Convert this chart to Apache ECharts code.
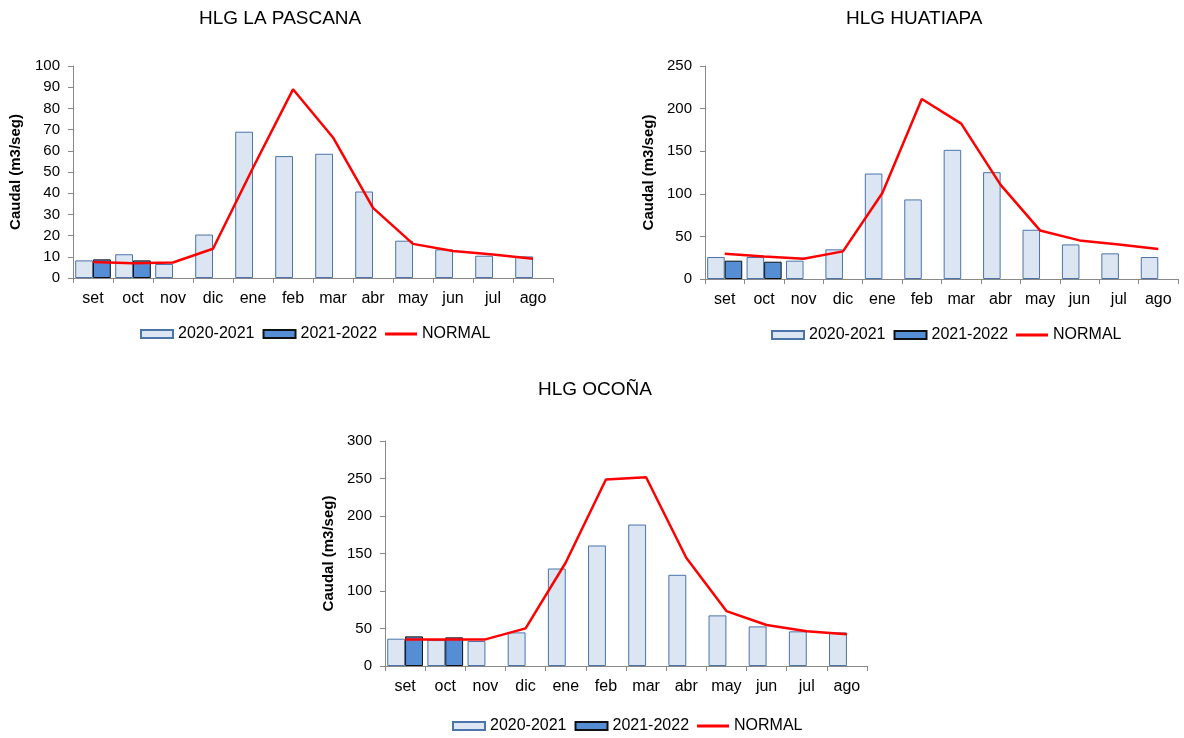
<!DOCTYPE html>
<html><head><meta charset="utf-8">
<script src="https://cdn.jsdelivr.net/npm/echarts@6/dist/echarts.min.js"></script>
<style>html,body{margin:0;padding:0;background:#fff}#c{width:1184px;height:738px}</style>
</head><body><div id="c"></div>
<script>
const months = ['set','oct','nov','dic','ene','feb','mar','abr','may','jun','jul','ago'];
const seriesNames = ['2020-2021','2021-2022','NORMAL'];
const titles = ['HLG LA PASCANA','HLG HUATIAPA','HLG OCOÑA'];
const yAxisName = 'Caudal (m3/seg)';

const pascana2020 = [8.3,11.2,6.6,20.5,69.0,57.5,58.6,40.8,17.6,13.5,10.5,10.2];
const pascana2021 = [8.8,8.3,null,null,null,null,null,null,null,null,null,null];
const pascanaNormal = [7.5,6.9,7.3,13.8,52,89.0,66.3,33.1,16.1,12.7,11.1,9.1];

const huatiapa2020 = [25.8,25.8,21.5,34.8,123.8,93.4,151.6,125.4,57.8,40.6,30.1,25.8];
const huatiapa2021 = [21.5,20.3,null,null,null,null,null,null,null,null,null,null];
const huatiapaNormal = [29.5,26.5,23.8,32.4,101,211.3,182.4,110.5,57,45.3,40.6,35.2];

const ocona2020 = [36.4,34.6,33.3,44.8,130,160.7,188.6,121.6,67.5,52.8,46.2,44.8];
const ocona2021 = [39.5,38.2,null,null,null,null,null,null,null,null,null,null];
const oconaNormal = [35.5,35.5,35.5,50.2,138,248.6,251.7,144.3,73.2,54.6,46.2,42.2];

const yMax = [100,250,300];
const yInterval = [10,50,50];

const font = 'Liberation Sans, Arial, sans-serif';
const grids = [
  {left:73, top:66, width:480, height:212},
  {left:705, top:66, width:473, height:213},
  {left:385, top:441, width:482, height:225}
];
const titleLeft = [199,846,538];
const titleTop = [9,9,380];
const legendPos = [{left:140,top:326},{left:771,top:327},{left:452,top:718}];
const nameGaps = [50,49,49];
const data = [
  [pascana2020,pascana2021,pascanaNormal],
  [huatiapa2020,huatiapa2021,huatiapaNormal],
  [ocona2020,ocona2021,oconaNormal]
];

const option = {
  animation:false,
  backgroundColor:'#fff',
  textStyle:{fontFamily:font},
  title: titles.map((t,i)=>({text:t,left:titleLeft[i],top:titleTop[i],padding:0,
    textStyle:{fontFamily:font,fontSize:19,fontWeight:'normal',color:'#000'}})),
  grid: grids,
  legend: legendPos.map((p,i)=>({
    left:p.left, top:p.top, itemWidth:32, itemHeight:8, itemGap:8, padding:0,
    textStyle:{fontFamily:font,fontSize:16,color:'#000'},
    data:[{name:seriesNames[0]+' '.repeat(i),icon:'rect'},
          {name:seriesNames[1]+' '.repeat(i),icon:'rect'},
          {name:seriesNames[2]+' '.repeat(i),icon:'path://M0,0 H32 V3 H0 Z'}],
    formatter: n=>n.trim()
  })),
  xAxis: grids.map((g,i)=>({
    type:'category', gridIndex:i, data:months,
    axisLine:{lineStyle:{color:'#888',width:1}},
    axisTick:{show:true,length:5,lineStyle:{color:'#888'}},
    axisLabel:{fontFamily:font,fontSize:16,color:'#000',margin:13}
  })),
  yAxis: grids.map((g,i)=>({
    type:'value', gridIndex:i, min:0, max:yMax[i], interval:yInterval[i],
    name:yAxisName, nameLocation:'middle', nameGap:nameGaps[i],
    nameTextStyle:{fontFamily:font,fontSize:15,fontWeight:'bold',color:'#000'},
    axisLine:{show:true,lineStyle:{color:'#888',width:1}},
    axisTick:{show:true,length:5,lineStyle:{color:'#888'}},
    splitLine:{show:false},
    axisLabel:{fontFamily:font,fontSize:15,color:'#000',margin:13}
  })),
  series: []
};

data.forEach((d,i)=>{
  option.series.push({
    name:seriesNames[0]+' '.repeat(i), type:'bar', xAxisIndex:i, yAxisIndex:i, data:d[0],
    barGap:'0%', barCategoryGap:'11%',
    itemStyle:{color:'#dce6f2',borderColor:'#4a74aa',borderWidth:1}
  });
  option.series.push({
    name:seriesNames[1]+' '.repeat(i), type:'bar', xAxisIndex:i, yAxisIndex:i, data:d[1],
    barGap:'0%', barCategoryGap:'11%',
    itemStyle:{color:'#558ed5',borderColor:'#111',borderWidth:1}
  });
  option.series.push({
    name:seriesNames[2]+' '.repeat(i), type:'line', xAxisIndex:i, yAxisIndex:i, data:d[2],
    symbol:'none', z:5,
    lineStyle:{color:'#ff0000',width:2.5},
    itemStyle:{color:'#ff0000'}
  });
});

const chart = echarts.init(document.getElementById('c'), null, {renderer:'canvas'});
chart.setOption(option);
</script>
</body></html>
